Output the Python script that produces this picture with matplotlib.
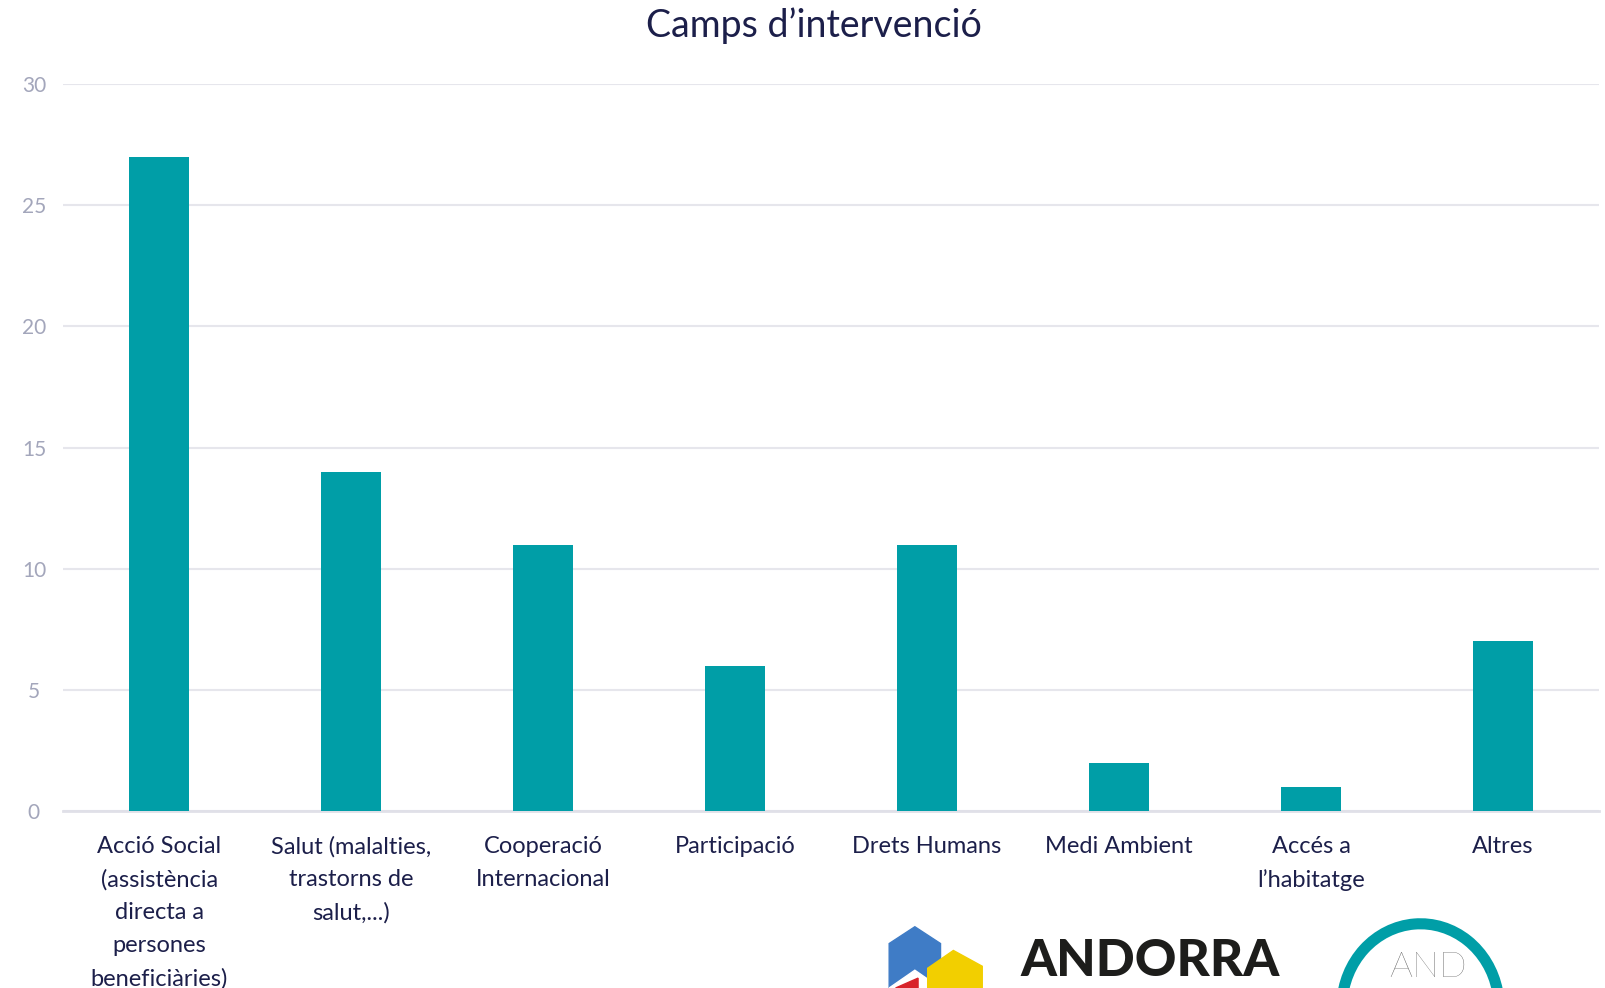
import matplotlib.pyplot as plt
from matplotlib.patches import Polygon, Arc

plt.rcParams['font.family'] = ['Lato', 'DejaVu Sans']

categories = ['Acció Social\n(assistència\ndirecta a\npersones\nbeneficiàries)',
              'Salut (malalties,\ntrastorns de\nsalut,...)',
              'Cooperació\nInternacional',
              'Participació',
              'Drets Humans',
              'Medi Ambient',
              'Accés a\nl\u2019habitatge',
              'Altres']
values = [27, 14, 11, 6, 11, 2, 1, 7]
yticks = [0, 5, 10, 15, 20, 25, 30]

teal = '#009ea7'
navy = '#1c1f4a'

fig = plt.figure(figsize=(16.05, 9.88), dpi=100)
ax = fig.add_axes([0.0393, 0.179, 0.957, 0.736])

x = list(range(len(categories)))
ax.bar(x, values, width=0.31, color=teal, zorder=3)

ax.set_xlim(-0.5, len(categories) - 0.5)
ax.set_ylim(0, 30)
ax.set_yticks(yticks)
ax.yaxis.grid(True, color='#e6e6ec', linewidth=1.5, zorder=0)
for s in ['top', 'right', 'left']:
    ax.spines[s].set_visible(False)
ax.spines['bottom'].set_color('#e0e0e8')
ax.spines['bottom'].set_linewidth(2)
ax.tick_params(axis='y', length=0, labelsize=15, labelcolor='#a3a6bb', pad=21)
for lbl in ax.get_yticklabels():
    lbl.set_horizontalalignment('center')
ax.tick_params(axis='x', length=0, labelsize=17, labelcolor=navy, pad=18)
ax.set_xticks(x)
ax.set_xticklabels(categories, linespacing=1.68)

fig.text(0.507, 0.974, 'Camps d\u2019intervenció', ha='center', va='center',
         fontsize=27, color=navy)

# logos at the bottom (decorative)
fig.patches.append(Polygon([[0.554, 0.045], [0.554, 0.0], [0.570, 0.0], [0.586, 0.0],
                            [0.586, 0.045], [0.570, 0.062]], closed=True,
                           transform=fig.transFigure, color='#3f7cc6'))
fig.patches.append(Polygon([[0.554, 0.0], [0.570, 0.018], [0.586, 0.0]], closed=True,
                           transform=fig.transFigure, color='white'))
fig.patches.append(Polygon([[0.578, 0.0], [0.578, 0.020], [0.594, 0.038], [0.612, 0.022],
                            [0.612, 0.0]], closed=True,
                           transform=fig.transFigure, color='#f2cf00'))
fig.patches.append(Polygon([[0.558, 0.0], [0.572, 0.010], [0.572, 0.0]], closed=True,
                           transform=fig.transFigure, color='#d8232a'))
fig.text(0.636, 0.027, 'ANDORRA', ha='left', va='center', fontsize=37,
         fontweight='black', color='#1d1d1b')
fig.patches.append(Arc((0.885, -0.02), 0.098, 0.17, theta1=20, theta2=175,
                       transform=fig.transFigure, color=teal, linewidth=8))
fig.text(0.890, 0.004, 'AND', ha='center', va='bottom', fontsize=26,
         color='#555555', fontweight='light')

fig.savefig('out.png', dpi=100)
